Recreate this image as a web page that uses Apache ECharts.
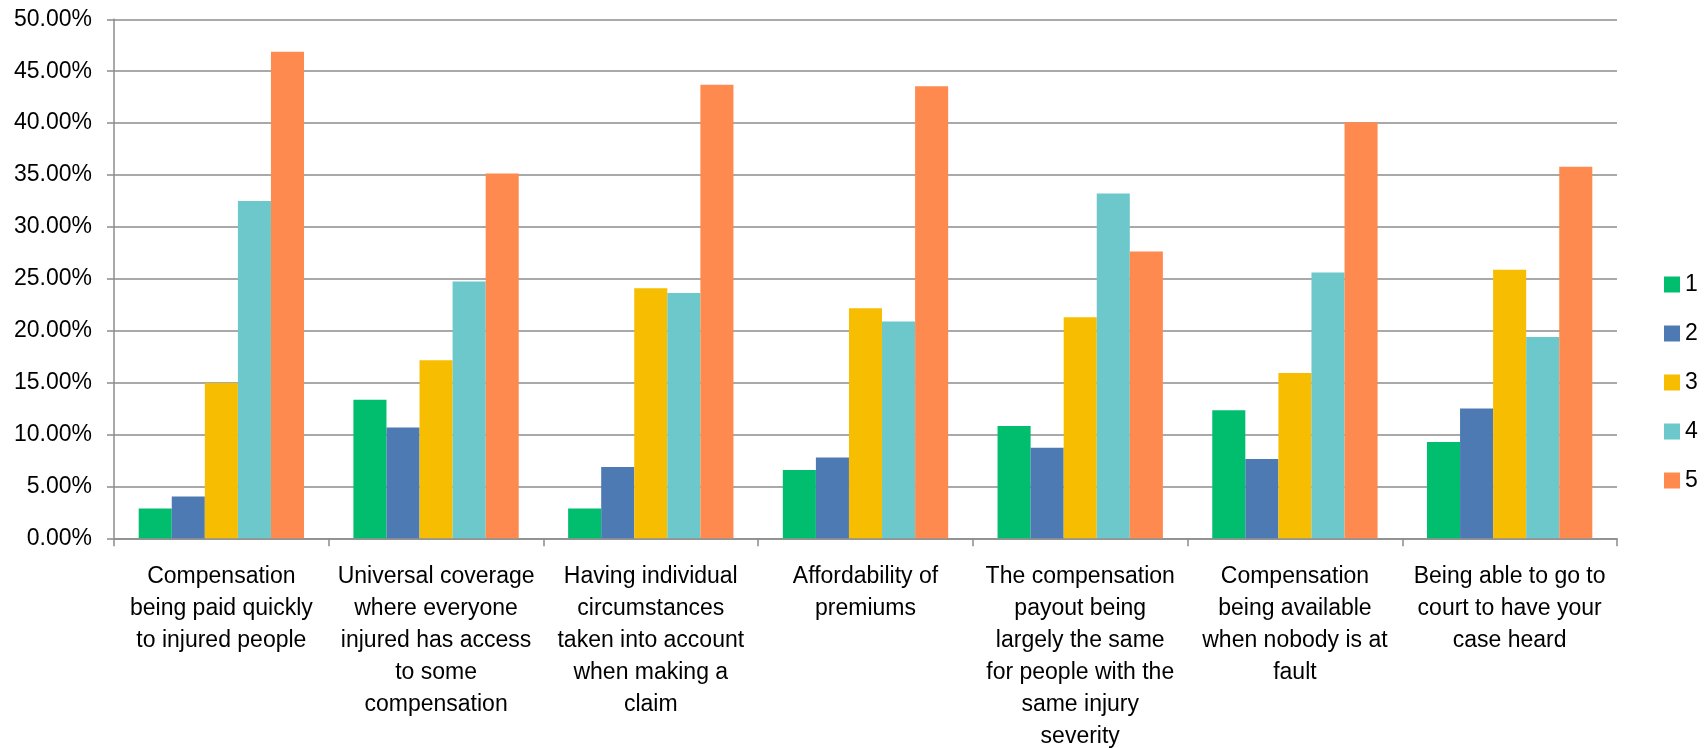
<!DOCTYPE html>
<html>
<head>
<meta charset="utf-8">
<style>
  html, body { margin: 0; padding: 0; background: #ffffff; }
  #chart { width: 1705px; height: 748px; }
</style>
<script src="https://cdn.jsdelivr.net/npm/echarts@6/dist/echarts.min.js"></script>
</head>
<body>
<div id="chart"></div>
<script>
const categories = [
  "Compensation\nbeing paid quickly\nto injured people",
  "Universal coverage\nwhere everyone\ninjured has access\nto some\ncompensation",
  "Having individual\ncircumstances\ntaken into account\nwhen making a\nclaim",
  "Affordability of\npremiums",
  "The compensation\npayout being\nlargely the same\nfor people with the\nsame injury\nseverity",
  "Compensation\nbeing available\nwhen nobody is at\nfault",
  "Being able to go to\ncourt to have your\ncase heard"
];
const seriesNames = ["1", "2", "3", "4", "5"];
const values1 = [2.86, 13.34, 2.86, 6.58, 10.82, 12.34, 9.27];
const values2 = [4.03, 10.68, 6.86, 7.79, 8.72, 7.65, 12.51];
const values3 = [14.96, 17.16, 24.09, 22.16, 21.30, 15.92, 25.88];
const values4 = [32.50, 24.74, 23.64, 20.88, 33.22, 25.60, 19.40];
const values5 = [46.87, 35.15, 43.70, 43.56, 27.64, 40.08, 35.80];
const colors = ["#00BE6E", "#4E7AB4", "#F7BD00", "#6DC8CB", "#FF8A4F"];

const allValues = [values1, values2, values3, values4, values5];
const FONT = "'Liberation Sans', Arial, sans-serif";
const GRID_COLOR = "#8c8c8c";

const chart = echarts.init(document.getElementById('chart'), null, { renderer: 'canvas' });
chart.setOption({
  animation: false,
  backgroundColor: '#ffffff',
  color: colors,
  grid: {
    left: 114, right: 88, top: 19.3, bottom: 209.7,
    containLabel: false,
    outerBoundsMode: 'none'
  },
  legend: {
    orient: 'vertical',
    left: 1659,
    top: 268,
    itemWidth: 16,
    itemHeight: 16,
    itemGap: 26,
    icon: 'rect',
    textStyle: { fontFamily: FONT, fontSize: 23, color: '#000', lineHeight: 22 },
    data: seriesNames
  },
  xAxis: {
    type: 'category',
    data: categories,
    axisLine: { show: true, lineStyle: { color: GRID_COLOR, width: 1.5 } },
    axisTick: { show: true, length: 8, lineStyle: { color: GRID_COLOR, width: 1.5 } },
    axisLabel: {
      interval: 0,
      margin: 22,
      fontFamily: FONT,
      fontSize: 23,
      lineHeight: 32,
      color: '#000',
      align: 'center',
      verticalAlign: 'top'
    },
    splitLine: { show: false }
  },
  yAxis: {
    type: 'value',
    min: 0,
    max: 50,
    interval: 5,
    axisLine: { show: true, lineStyle: { color: GRID_COLOR, width: 1.5 } },
    axisTick: { show: true, length: 7, lineStyle: { color: GRID_COLOR, width: 1.5 } },
    axisLabel: {
      margin: 22,
      fontFamily: FONT,
      fontSize: 23,
      color: '#000',
      formatter: v => v.toFixed(2) + '%'
    },
    splitLine: { show: true, lineStyle: { color: GRID_COLOR, width: 1.5 } }
  },
  series: seriesNames.map((name, i) => ({
    name: name,
    type: 'bar',
    data: allValues[i],
    barGap: '0%',
    barCategoryGap: '23%',
    itemStyle: { color: colors[i] }
  }))
});
</script>
</body>
</html>
